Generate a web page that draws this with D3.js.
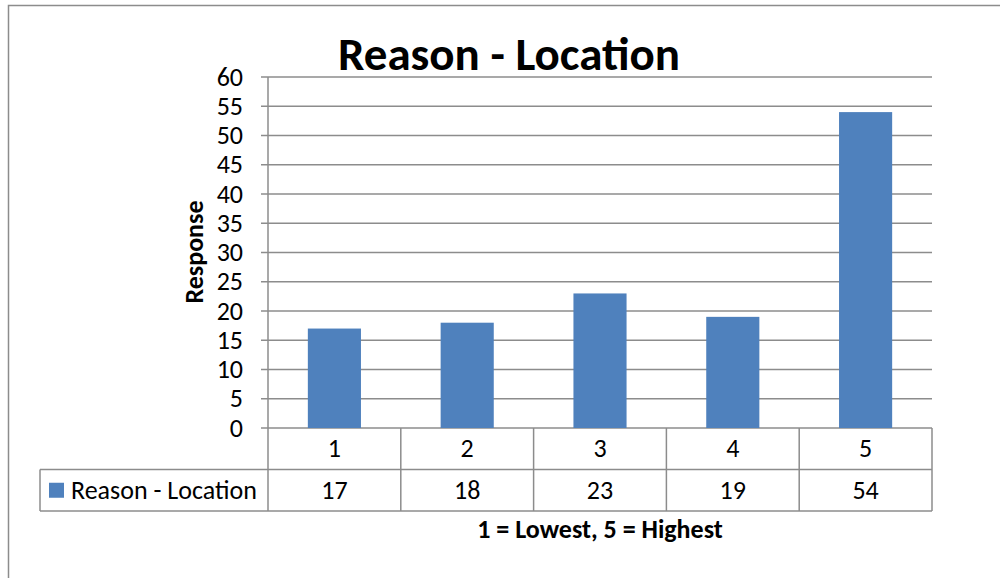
<!DOCTYPE html>
<html>
<head>
<meta charset="utf-8">
<script src="https://cdn.jsdelivr.net/npm/d3@7"></script>
<style>
  html, body { margin: 0; padding: 0; background: #fff; }
  svg { display: block; }
  text { font-family: Carlito, Calibri, "Open Sans", "Liberation Sans", sans-serif; fill: #000; }
</style>
</head>
<body>
<svg id="chart" width="1000" height="578"></svg>
<script>
// Survey ratings and number of responses for each
const categories = ["1", "2", "3", "4", "5"];
const responses = [17, 18, 23, 19, 54];
const yTicks = [0, 5, 10, 15, 20, 25, 30, 35, 40, 45, 50, 55, 60];
const seriesName = "Reason - Location";
const chartTitle = "Reason - Location";
const yTitle = "Response";
const xTitle = "1 = Lowest, 5 = Highest";

const svg = d3.select("#chart");
const gridColor = "#8c8c8c";
const barColor = "#4f81bd";
const fs = 26;

const plot = { left: 268, right: 932, top: 77, bottom: 428 };
const rowH = 41.5;

// Outer chart frame
svg.append("rect")
  .attr("x", 8.5).attr("y", 5.5)
  .attr("width", 1000).attr("height", 600)
  .attr("fill", "none").attr("stroke", gridColor).attr("stroke-width", 1.5);

const x = d3.scaleBand().domain(categories)
  .range([plot.left, plot.right]).paddingInner(0).paddingOuter(0);
const y = d3.scaleLinear().domain([0, 60]).range([plot.bottom, plot.top]);

// Horizontal gridlines with small outward ticks
svg.append("g").selectAll("line").data(yTicks).join("line")
  .attr("x1", plot.left - 7).attr("x2", plot.right)
  .attr("y1", d => y(d)).attr("y2", d => y(d))
  .attr("stroke", gridColor).attr("stroke-width", 1.5);

// Vertical axis line
svg.append("line")
  .attr("x1", plot.left).attr("x2", plot.left)
  .attr("y1", plot.top).attr("y2", plot.bottom)
  .attr("stroke", gridColor).attr("stroke-width", 1.5);

// Tick labels
svg.append("g").selectAll("text").data(yTicks).join("text")
  .attr("x", 243).attr("y", d => y(d))
  .attr("dy", "0.33em")
  .attr("text-anchor", "end")
  .attr("font-size", fs)
  .text(d => d);

// Bars
const barW = x.bandwidth() * 0.4;
svg.append("g").selectAll("rect").data(responses).join("rect")
  .attr("x", (d, i) => x(categories[i]) + x.bandwidth() / 2 - barW / 2)
  .attr("y", d => y(d))
  .attr("width", barW)
  .attr("height", d => y(0) - y(d))
  .attr("fill", barColor);

// Data table below the plot
const table = svg.append("g");
const r1 = plot.bottom, r2 = plot.bottom + rowH, r3 = plot.bottom + 2 * rowH;
const legendLeft = 40;
const tableLines = [
  [plot.left, r2, plot.right, r2],
  [legendLeft, r2, plot.left, r2],
  [legendLeft, r3, plot.right, r3],
  [legendLeft, r2, legendLeft, r3],
  [plot.right, r1, plot.right, r3]
];
categories.forEach(c => tableLines.push([x(c), r1, x(c), r3]));
table.selectAll("line").data(tableLines).join("line")
  .attr("x1", d => d[0]).attr("y1", d => d[1])
  .attr("x2", d => d[2]).attr("y2", d => d[3])
  .attr("stroke", gridColor).attr("stroke-width", 1.5);

table.append("g").selectAll("text").data(categories).join("text")
  .attr("x", d => x(d) + x.bandwidth() / 2)
  .attr("y", (r1 + r2) / 2).attr("dy", "0.33em")
  .attr("text-anchor", "middle").attr("font-size", fs)
  .text(d => d);

table.append("g").selectAll("text").data(responses).join("text")
  .attr("x", (d, i) => x(categories[i]) + x.bandwidth() / 2)
  .attr("y", (r2 + r3) / 2).attr("dy", "0.33em")
  .attr("text-anchor", "middle").attr("font-size", fs)
  .text(d => d);

// Legend key in the table's first column
table.append("rect")
  .attr("x", 49).attr("y", (r2 + r3) / 2 - 7.5)
  .attr("width", 15).attr("height", 15)
  .attr("fill", barColor);
table.append("text")
  .attr("x", 71).attr("y", (r2 + r3) / 2).attr("dy", "0.33em")
  .attr("font-size", fs)
  .text(seriesName);

// Titles
svg.append("text")
  .attr("x", 509).attr("y", 70)
  .attr("text-anchor", "middle")
  .attr("font-size", 47).attr("font-weight", "bold")
  .text(chartTitle);

svg.append("text")
  .attr("transform", "translate(203,252) rotate(-90)")
  .attr("text-anchor", "middle")
  .attr("font-size", fs).attr("font-weight", "bold")
  .text(yTitle);

svg.append("text")
  .attr("x", 600).attr("y", 538)
  .attr("text-anchor", "middle")
  .attr("font-size", fs).attr("font-weight", "bold")
  .text(xTitle);
</script>
</body>
</html>
